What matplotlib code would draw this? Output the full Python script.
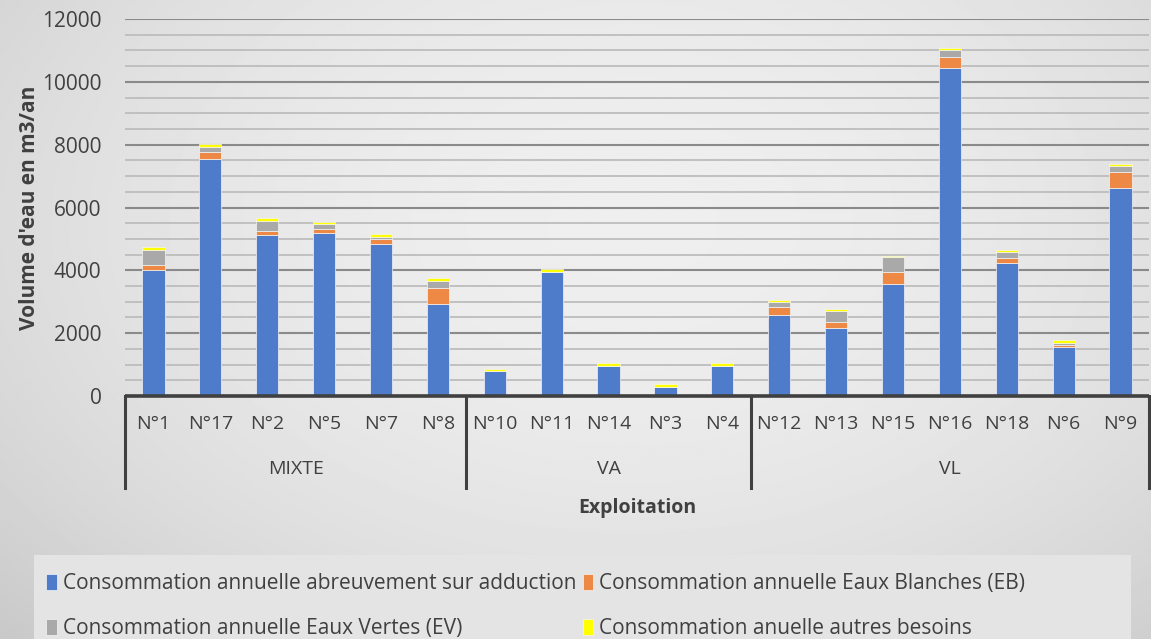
import numpy as np
import matplotlib
matplotlib.use("Agg")
import matplotlib.pyplot as plt
import matplotlib.transforms as mtransforms
from matplotlib.patches import Rectangle

plt.rcParams['font.family'] = ['Open Sans', 'DejaVu Sans']

# Exploitations, grouped by production type
categories = ["N°1", "N°17", "N°2", "N°5", "N°7", "N°8",
              "N°10", "N°11", "N°14", "N°3", "N°4",
              "N°12", "N°13", "N°15", "N°16", "N°18", "N°6", "N°9"]
group_names = ["MIXTE", "VA", "VL"]
group_sizes = [6, 5, 7]

# Annual water volumes (m3/an)
adduction = [4000, 7530, 5130, 5180, 4830, 2930,
             790, 3950, 960, 290, 970,
             2580, 2170, 3570, 10440, 4240, 1570, 6610]
eaux_blanches = [180, 240, 130, 130, 180, 520,
                 0, 0, 0, 0, 0,
                 260, 170, 370, 360, 160, 50, 510]
eaux_vertes = [480, 160, 310, 160, 60, 220,
               0, 0, 0, 0, 0,
               150, 360, 470, 210, 170, 80, 210]
autres_besoins = [70, 80, 100, 70, 80, 80,
                  60, 80, 80, 90, 90,
                  80, 80, 50, 80, 80, 90, 70]

series_labels = ["Consommation annuelle abreuvement sur adduction",
                 "Consommation annuelle Eaux Blanches (EB)",
                 "Consommation annuelle Eaux Vertes (EV)",
                 "Consommation anuelle autres besoins"]
series_colors = ["#4f7bcb", "#ed8944", "#a9a9a9", "#ffff00"]

W, H = 1151, 639
fig = plt.figure(figsize=(W / 100, H / 100), dpi=100)

# soft radial grey background
bg = fig.add_axes([0, 0, 1, 1], zorder=-10)
yy, xx = np.mgrid[0:1:300j, 0:1:500j]
r = np.sqrt(((xx - 0.55) / 0.75) ** 2 + ((yy - 0.35) / 0.9) ** 2)
shade = 0.935 - 0.14 * np.clip(r, 0, 1.2) ** 2
bg.imshow(shade, cmap="gray", vmin=0, vmax=1, aspect="auto",
          extent=[0, 1, 0, 1], origin="upper")
bg.axis("off")

ax = fig.add_axes([125 / W, 1 - 396 / H, (1149 - 125) / W, (396 - 19) / H])
ax.patch.set_alpha(0)

x = np.arange(len(categories))
width = 0.39
bottom = np.zeros(len(categories))
handles = []
for vals, col, lab in zip([adduction, eaux_blanches, eaux_vertes, autres_besoins],
                          series_colors, series_labels):
    b = ax.bar(x, vals, width, bottom=bottom, color=col, edgecolor="#f4f4f4",
               linewidth=0.5, label=lab, zorder=3)
    handles.append(b)
    bottom += np.array(vals, dtype=float)

ax.set_xlim(-0.5, len(categories) - 0.5)
ax.set_ylim(0, 12000)
ax.set_yticks(np.arange(0, 12001, 2000))
ax.set_yticks(np.arange(0, 12001, 500), minor=True)
ax.grid(axis="y", which="minor", color="#bdbdbd", linewidth=1.3, zorder=0)
ax.grid(axis="y", which="major", color="#8a8a8a", linewidth=1.5, zorder=0)
ax.set_axisbelow(True)
for s in ax.spines.values():
    s.set_visible(False)
ax.tick_params(axis="y", which="both", length=0, pad=17, labelsize=15,
               labelcolor="#404040")
ax.set_xticks([])

# category axis with grouped labels
trans = mtransforms.blended_transform_factory(ax.transData, ax.transAxes)
axis_col = "#404040"
ax.plot([-0.5, len(categories) - 0.5], [0, 0], color=axis_col, lw=2.6,
        transform=trans, clip_on=False, zorder=5, solid_capstyle="butt")
bracket_y = -(488 - 396) / (396 - 19)
edges = np.concatenate([[0], np.cumsum(group_sizes)]) - 0.5
for e in edges:
    ax.plot([e, e], [0, bracket_y], color=axis_col, lw=2.2, transform=trans,
            clip_on=False, zorder=5)
for xi, lab in zip(x, categories):
    ax.text(xi, -(424 - 396) / 377, lab, transform=trans, ha="center",
            va="center", fontsize=14, color="#404040")
for name, lo, hi in zip(group_names, edges[:-1], edges[1:]):
    ax.text((lo + hi) / 2, -(469 - 396) / 377, name, transform=trans,
            ha="center", va="center", fontsize=14, color="#404040")
ax.text(0.5, -(508 - 396) / 377, "Exploitation", transform=ax.transAxes,
        ha="center", va="center", fontsize=14, fontweight="bold",
        color="#404040")
fig.text(30 / W, 1 - 208 / H, "Volume d'eau en m3/an", rotation=90,
         ha="center", va="center", fontsize=15, fontweight="bold",
         color="#404040")

# legend panel
fig.patches.append(Rectangle((34 / W, 0), (1131 - 34) / W, (639 - 555) / H,
                             transform=fig.transFigure, facecolor="#e4e4e4",
                             edgecolor="none", zorder=-5))
leg = fig.legend([handles[0], handles[2], handles[1], handles[3]],
                 [series_labels[0], series_labels[2], series_labels[1], series_labels[3]],
                 ncol=2, loc="upper left", bbox_to_anchor=(38 / W, 1 - 565 / H),
                 frameon=False, fontsize=15, handlelength=0.5, handleheight=0.85,
                 handletextpad=0.3, columnspacing=0.3, labelspacing=1.15,
                 borderaxespad=0, labelcolor="#404040")

fig.savefig("out.png", dpi=100)
